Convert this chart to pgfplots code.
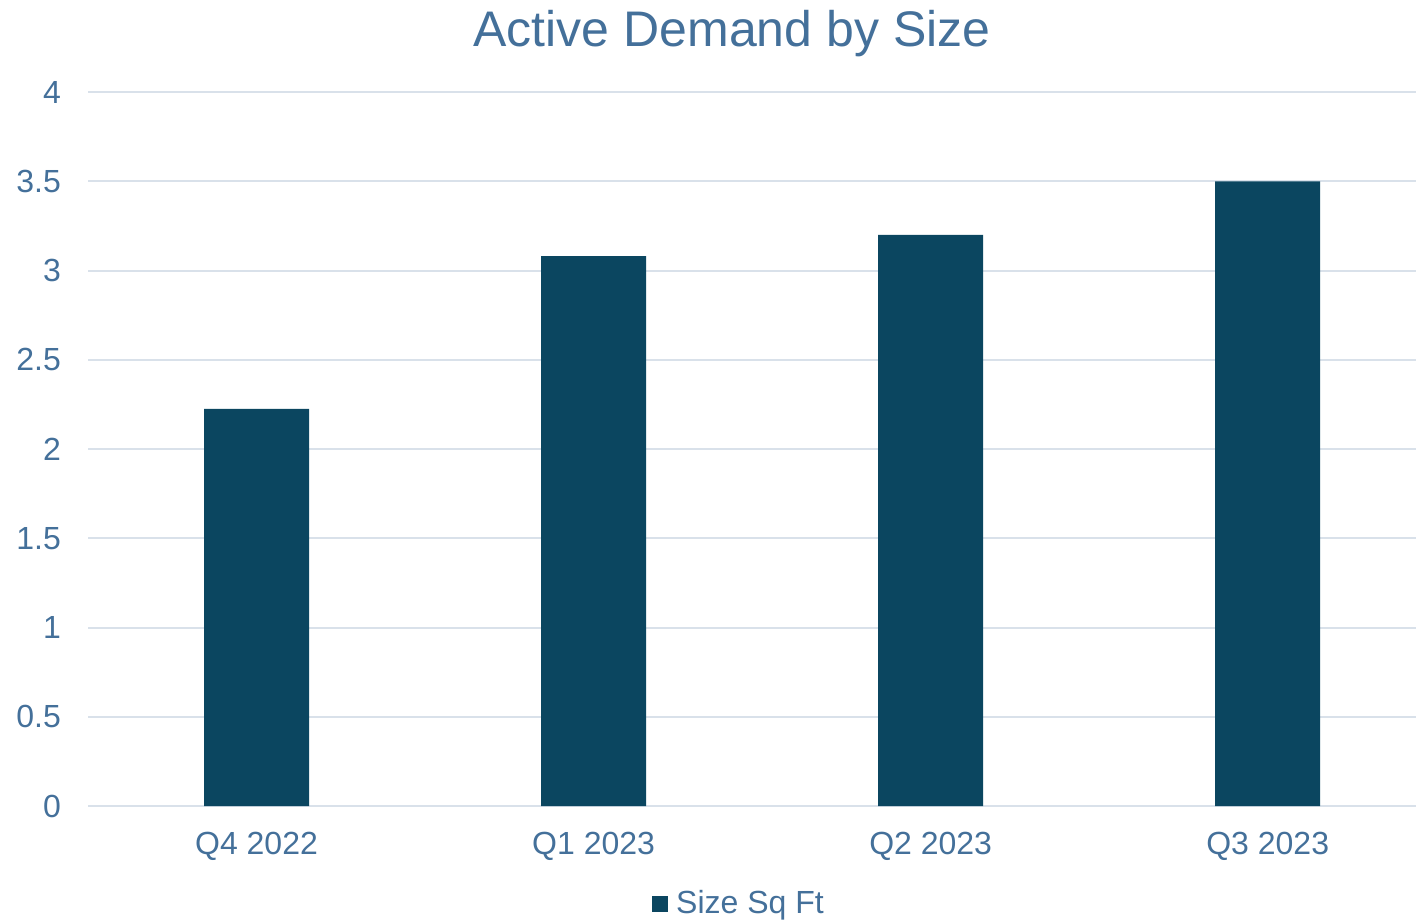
\documentclass[border=0pt]{standalone}
\usepackage{pgfplots}
\pgfplotsset{compat=1.18}
\usepackage{fontspec}
\setmainfont{Liberation Sans}
\definecolor{bar}{HTML}{0B4660}
\definecolor{txt}{HTML}{44709A}
\definecolor{gridc}{HTML}{D9E1EA}
\begin{document}
\begin{tikzpicture}[x=1pt,y=1pt]
\path[use as bounding box] (0,0) rectangle (708,461.5);
\begin{axis}[at={(44pt,58.5pt)}, anchor=south west, scale only axis,
 width=664pt, height=357pt,
 xmin=-0.5, xmax=3.44, ymin=0, ymax=4,
 ybar, bar width=52.5pt,
 axis line style={draw=none},
 major tick length=0pt,
 ymajorgrids, grid style={color=gridc, line width=1pt},
 xtick={0,1,2,3}, xticklabels={Q4 2022, Q1 2023, Q2 2023, Q3 2023},
 ytick={0,0.5,1,1.5,2,2.5,3,3.5,4}, yticklabels={0,0.5,1,1.5,2,2.5,3,3.5,4},
 ticklabel style={font=\fontsize{16}{19}\selectfont, text=txt},
 yticklabel style={anchor=east, xshift=-10pt},
 xticklabel style={anchor=north, yshift=-9.5pt},
 legend style={draw=none, at={(0.491,-0.137)}, anchor=center, font=\fontsize{16}{19}\selectfont, text=txt},
 ]
\addplot[fill=bar, draw=none, legend image code/.code={\fill[bar] (0pt,-4pt) rectangle (8pt,4pt);}]
 coordinates {(0,2.225) (1,3.08) (2,3.20) (3,3.50)};
\addlegendentry{\hspace{2pt}Size Sq Ft}
\end{axis}
\node[text=txt, font=\fontsize{25}{30}\selectfont, anchor=base] at (366,438) {Active Demand by Size};
\end{tikzpicture}
\end{document}
